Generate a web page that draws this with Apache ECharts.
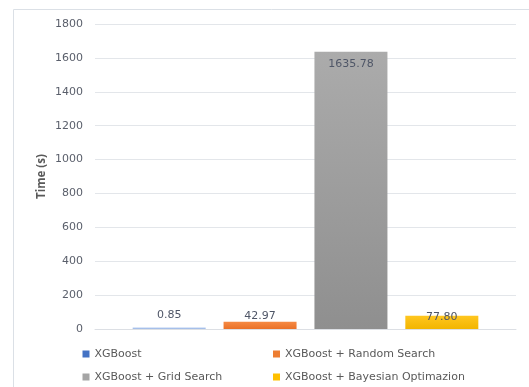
<!DOCTYPE html>
<html>
<head>
<meta charset="utf-8">
<script src="https://cdn.jsdelivr.net/npm/echarts@6/dist/echarts.min.js"></script>
<style>
  html, body { margin: 0; padding: 0; background: #fff; }
  #chart { width: 529px; height: 387px; }
</style>
</head>
<body>
<div id="chart"></div>
<script>
// Training time per tuning approach (seconds)
const methods = ['XGBoost', 'XGBoost + Random Search', 'XGBoost + Grid Search', 'XGBoost + Bayesian Optimazion'];
const times = [0.85, 42.97, 1635.78, 77.80];
const yTicks = { min: 0, max: 1800, interval: 200 };
const axisName = 'Time (s)';

const baseColors = ['#4472C4', '#ED7D31', '#A5A5A5', '#FFC000'];
const barGradients = [
  ['#b7cdf0', '#9db8e6'],
  ['#f68a45', '#ea7127'],
  ['#ababab', '#8f8f8f'],
  ['#ffc61f', '#f2b500']
];
const labelStyles = [
  { position: 'top', distance: 7 },
  { position: 'top', distance: 0 },
  { position: 'insideTop', distance: 7 },
  { position: 'top', distance: -7 }
];
// legend slots: two columns, two rows
const legendSlots = [
  { left: 82.5, top: 347.5 },
  { left: 273, top: 347.5 },
  { left: 82.5, top: 370.5 },
  { left: 273, top: 370.5 }
];

const chart = echarts.init(document.getElementById('chart'), null, { renderer: 'canvas' });

const series = methods.map((name, i) => ({
  name: name,
  type: 'bar',
  barWidth: 73,
  barGap: '24.5%',
  barMinHeight: i === 0 ? 1.5 : 0,
  data: [times[i]],
  itemStyle: {
    color: new echarts.graphic.LinearGradient(0, 0, 0, 1, [
      { offset: 0, color: barGradients[i][0] },
      { offset: 1, color: barGradients[i][1] }
    ])
  },
  label: {
    show: true,
    position: labelStyles[i].position,
    distance: labelStyles[i].distance,
    formatter: p => p.value.toFixed(2),
    fontFamily: 'DejaVu Sans',
    fontSize: 11,
    color: '#4f5667'
  },
  emphasis: { disabled: true }
}));

const legendText = { fontFamily: 'DejaVu Sans', fontSize: 11, color: '#595959', lineHeight: 13 };
const legends = methods.map((name, i) => ({
  left: legendSlots[i].left,
  top: legendSlots[i].top,
  padding: 0,
  itemWidth: 7, itemHeight: 7, itemTextGap: 4, icon: 'rect',
  textStyle: legendText,
  data: [{ name: name, itemStyle: { color: baseColors[i] } }]
}));

chart.setOption({
  animation: false,
  graphic: [{
    type: 'rect',
    shape: { x: 13.5, y: 9.5, width: 700, height: 500 },
    style: { fill: 'none', stroke: '#dbe0e6', lineWidth: 1 },
    silent: true
  }],
  grid: { left: 95, right: 13, top: 24, bottom: 58 },
  legend: legends,
  xAxis: {
    type: 'category',
    data: [''],
    axisLine: { show: true, lineStyle: { color: '#dcdfe4', width: 1 } },
    axisTick: { show: false },
    axisLabel: { show: false }
  },
  yAxis: {
    type: 'value',
    min: yTicks.min,
    max: yTicks.max,
    interval: yTicks.interval,
    name: axisName,
    nameLocation: 'middle',
    nameGap: 47,
    nameMoveOverlap: false,
    nameTextStyle: { fontFamily: 'Open Sans', fontWeight: 'bold', fontSize: 11.5, color: '#595959' },
    axisLine: { show: false },
    axisTick: { show: false },
    axisLabel: {
      margin: 12, fontFamily: 'DejaVu Sans', fontSize: 11, color: '#5a5f6b',
      formatter: v => String(v)
    },
    splitLine: { lineStyle: { color: '#e3e6ea', width: 1 } }
  },
  series: series
});
</script>
</body>
</html>
